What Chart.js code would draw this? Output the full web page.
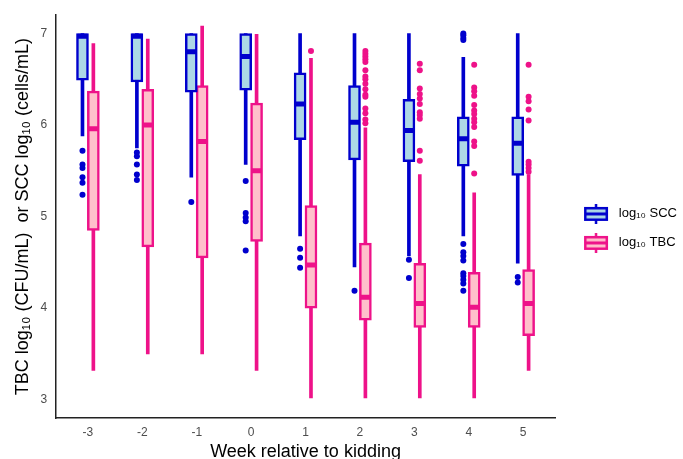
<!DOCTYPE html>
<html>
<head>
<meta charset="utf-8">
<script src="https://cdn.jsdelivr.net/npm/chart.js@4.4.0/dist/chart.umd.min.js"></script>
<style>
  html, body { margin: 0; padding: 0; background: #fff; }
  #wrap { width: 683px; height: 459px; }
</style>
</head>
<body>
<div id="wrap"><canvas id="box"></canvas></div>
<script>
const weeks = [-3, -2, -1, 0, 1, 2, 3, 4, 5];
const yTicks = [3, 4, 5, 6, 7];

// log10 SCC (cells/mL): whisker ends, quartiles, median
const sccLow  = [5.88, 5.75, 5.43, 5.57, 4.79, 4.45, 4.57, 4.79, 4.49];
const sccQ1   = [6.49, 6.47, 6.36, 6.38, 5.84, 5.62, 5.60, 5.55, 5.45];
const sccMed  = [6.97, 6.97, 6.80, 6.75, 6.23, 6.03, 5.94, 5.85, 5.80];
const sccQ3   = [7.00, 7.00, 7.00, 7.00, 6.57, 6.43, 6.28, 6.09, 6.09];
const sccHigh = [7.00, 7.00, 7.00, 7.00, 7.00, 7.00, 7.00, 6.74, 7.00];
const sccOut = [
  [5.72, 5.57, 5.53, 5.43, 5.37, 5.24],
  [5.70, 5.66, 5.57, 5.46, 5.40],
  [5.16],
  [5.39, 5.04, 4.99, 4.95, 4.63],
  [4.65, 4.55, 4.44],
  [4.19],
  [4.53, 4.33],
  [7.00, 6.98, 6.95, 6.93, 4.70, 4.61, 4.57, 4.52, 4.38, 4.35, 4.31, 4.27, 4.19],
  [4.34, 4.28]
];

// log10 TBC (CFU/mL)
const tbcLow  = [3.32, 3.50, 3.50, 3.32, 3.02, 3.02, 3.02, 3.02, 3.32];
const tbcQ1   = [4.85, 4.67, 4.55, 4.73, 4.00, 3.87, 3.79, 3.79, 3.70];
const tbcMed  = [5.96, 6.00, 5.82, 5.50, 4.47, 4.12, 4.05, 4.01, 4.05];
const tbcQ3   = [6.37, 6.39, 6.43, 6.24, 5.12, 4.71, 4.49, 4.39, 4.42];
const tbcHigh = [6.89, 6.94, 7.08, 6.99, 6.73, 5.97, 5.46, 5.26, 5.46];
const tbcOut = [
  [], [], [], [],
  [6.81],
  [6.81, 6.78, 6.75, 6.72, 6.69, 6.60, 6.53, 6.50, 6.45, 6.39, 6.33, 6.31, 6.18, 6.13, 6.06, 6.02],
  [6.67, 6.60, 6.40, 6.34, 6.29, 6.23, 6.14, 6.11, 6.07, 5.72, 5.61],
  [6.66, 6.41, 6.37, 6.32, 6.22, 6.16, 6.12, 6.07, 6.03, 5.98, 5.82, 5.77, 5.47],
  [6.66, 6.31, 6.26, 6.17, 6.05, 5.60, 5.57, 5.53, 5.49]
];

const sccColor = '#0000CD', sccFill = '#ADD8E6';
const tbcColor = '#EE1289', tbcFill = '#FFC0CB';
const dodge = 0.1;

function series(name, off, lo, q1, med, q3, hi, out, color, fill) {
  return [
    { type: 'bar', label: name + ' whisker', order: 4, grouped: false,
      data: weeks.map((w, i) => ({ x: w + off, y: [lo[i], hi[i]] })),
      backgroundColor: color, borderWidth: 0, barThickness: 3 },
    { type: 'bar', label: name, order: 3, grouped: false,
      data: weeks.map((w, i) => ({ x: w + off, y: [q1[i], q3[i]] })),
      backgroundColor: fill, borderColor: color, borderWidth: 2.5, borderSkipped: false,
      barThickness: 12 },
    { type: 'scatter', label: name + ' median', order: 2,
      data: weeks.map((w, i) => ({ x: w + off, y: med[i] })),
      pointStyle: 'line', pointRadius: 5, borderColor: color, borderWidth: 5 },
    { type: 'scatter', label: name + ' outliers', order: 1,
      data: weeks.flatMap((w, i) => out[i].map(v => ({ x: w + off, y: v }))),
      pointRadius: 3, backgroundColor: color, borderWidth: 0 }
  ];
}

// small boxplot key, drawn a little right of the canvas centre
function legendIcon(color, fill) {
  const c = document.createElement('canvas');
  c.width = 40; c.height = 20;
  const g = c.getContext('2d');
  g.strokeStyle = color; g.lineWidth = 2.5;
  g.beginPath(); g.moveTo(24, 0); g.lineTo(24, 4); g.moveTo(24, 16); g.lineTo(24, 20); g.stroke();
  g.fillStyle = fill; g.fillRect(13, 4, 22, 12);
  g.strokeRect(13.25, 4.25, 21.5, 11.5);
  g.lineWidth = 3;
  g.beginPath(); g.moveTo(13, 10); g.lineTo(35, 10); g.stroke();
  return c;
}
const icons = [legendIcon(sccColor, sccFill), legendIcon(tbcColor, tbcFill)];

const font = "'Liberation Sans', Arial, sans-serif";

new Chart(document.getElementById('box'), {
  type: 'bar',
  data: {
    datasets: [
      ...series('log\u2081\u2080 SCC', -dodge, sccLow, sccQ1, sccMed, sccQ3, sccHigh, sccOut, sccColor, sccFill),
      ...series('log\u2081\u2080 TBC', dodge, tbcLow, tbcQ1, tbcMed, tbcQ3, tbcHigh, tbcOut, tbcColor, tbcFill)
    ]
  },
  options: {
    responsive: true,
    maintainAspectRatio: false,
    animation: false,
    layout: { padding: { top: 6, right: -4, bottom: -4, left: 12 } },
    plugins: {
      tooltip: { enabled: false },
      legend: {
        position: 'right',
        fullSize: false,
        onClick: null,
        title: { display: true, text: ' ', font: { size: 13 }, padding: 4 },
        labels: {
          usePointStyle: true,
          pointStyleWidth: 40.5,
          padding: 16,
          color: '#000',
          font: { family: font, size: 13 },
          generateLabels: () => ['log\u2081\u2080 SCC', 'log\u2081\u2080 TBC'].map((t, i) => ({
            text: t, pointStyle: icons[i], fillStyle: 'transparent', strokeStyle: 'transparent',
            fontColor: '#000', lineWidth: 0, hidden: false, datasetIndex: i
          }))
        }
      }
    },
    scales: {
      x: {
        type: 'linear',
        offset: false,
        min: -3.6, max: 5.6,
        afterBuildTicks: s => { s.ticks = weeks.map(v => ({ value: v })); },
        grid: { display: false, drawTicks: false },
        border: { display: true, color: '#222', width: 1.5 },
        ticks: { color: '#4D4D4D', font: { family: font, size: 12 }, padding: 7 },
        title: { display: true, text: 'Week relative to kidding', color: '#000',
                 font: { family: font, size: 18 }, padding: { top: -5, bottom: 0 } }
      },
      y: {
        type: 'linear',
        min: 2.8, max: 7.2,
        afterBuildTicks: s => { s.ticks = yTicks.map(v => ({ value: v })); },
        grid: { display: false, drawTicks: false },
        border: { display: true, color: '#222', width: 1.5 },
        ticks: { color: '#4D4D4D', font: { family: font, size: 12 }, padding: 8 },
        title: { display: true, text: 'TBC log\u2081\u2080 (CFU/mL)  or SCC log\u2081\u2080 (cells/mL)',
                 color: '#000', font: { family: font, size: 18 }, padding: { top: 0, bottom: -1 } }
      }
    }
  }
});
</script>
</body>
</html>
